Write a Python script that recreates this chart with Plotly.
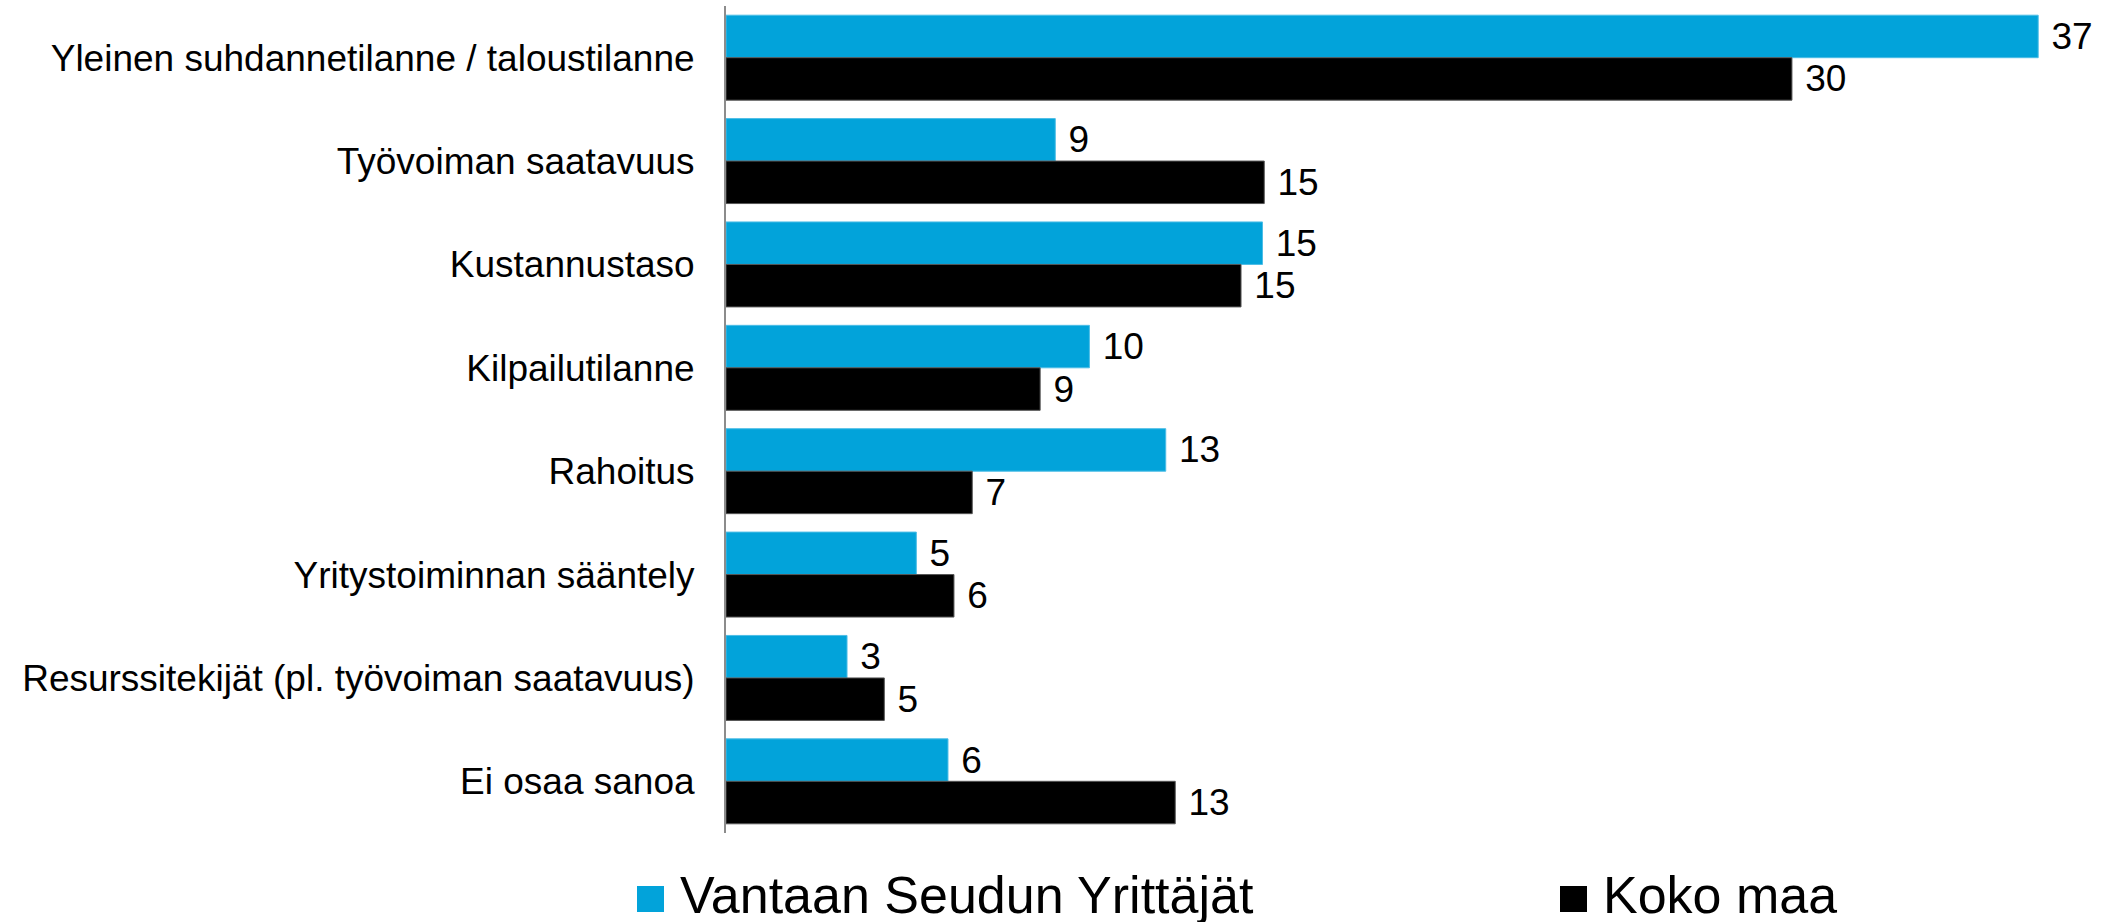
import plotly.graph_objects as go

categories = [
    "Yleinen suhdannetilanne / taloustilanne",
    "Työvoiman saatavuus",
    "Kustannustaso",
    "Kilpailutilanne",
    "Rahoitus",
    "Yritystoiminnan sääntely",
    "Resurssitekijät (pl. työvoiman saatavuus)",
    "Ei osaa sanoa",
]
series_names = ["Vantaan Seudun Yrittäjät", "Koko maa"]
vantaa_values = [37.3, 9.36, 15.25, 10.33, 12.5, 5.41, 3.44, 6.31]
vantaa_labels = ["37", "9", "15", "10", "13", "5", "3", "6"]
koko_values = [30.3, 15.3, 14.64, 8.93, 7.0, 6.48, 4.5, 12.77]
koko_labels = ["30", "15", "15", "9", "7", "6", "5", "13"]
colors = ["#02A3DA", "#000000"]

FONT = "Liberation Sans, Arial, sans-serif"

fig = go.Figure()
for name, vals, labs, col, lc in [
    (series_names[0], vantaa_values, vantaa_labels, colors[0], "#4cbde6"),
    (series_names[1], koko_values, koko_labels, colors[1], "#555555"),
]:
    fig.add_trace(go.Bar(
        y=categories, x=vals, orientation="h", name=name,
        marker=dict(color=col, line=dict(color=lc, width=1)),
        text=labs, texttemplate="\u00a0%{text}", textposition="outside",
        constraintext="none", cliponaxis=False,
        textfont=dict(family=FONT, size=37, color="#000000"),
        showlegend=False, hoverinfo="skip",
    ))

W, H = 2121, 923
L, R, T, B = 726, 23, 6, 90
pw, ph = W - L - R, H - T - B

def px_x(p):
    return (p - L) / pw

def px_y(p):
    return (H - B - p) / ph

fig.update_layout(
    width=W, height=H,
    margin=dict(l=L, r=R, t=T, b=B, autoexpand=False),
    paper_bgcolor="white", plot_bgcolor="white",
    barmode="group", bargap=0.178, bargroupgap=0,
    font=dict(family=FONT, size=37, color="#000000"),
    xaxis=dict(range=[0, 39], visible=False, showgrid=False, zeroline=False),
    yaxis=dict(
        autorange="reversed", showgrid=False, zeroline=False,
        showline=True, linecolor="#8c8c8c", linewidth=2,
        ticks="", ticklabelstandoff=22,
        tickfont=dict(family=FONT, size=37, color="#000000"),
    ),
)

# legend drawn with big square keys
legend_items = [
    (series_names[0], colors[0], 637, 678),
    (series_names[1], colors[1], 1560, 1601),
]
for name, col, sq_x, tx in legend_items:
    fig.add_shape(type="rect", xref="paper", yref="paper",
                  x0=px_x(sq_x), x1=px_x(sq_x + 27),
                  y0=px_y(912), y1=px_y(886),
                  fillcolor=col, line=dict(width=0))
    fig.add_annotation(xref="paper", yref="paper",
                       x=px_x(tx), y=px_y(895), xanchor="left", yanchor="middle",
                       text=name, showarrow=False, height=54, valign="middle",
                       font=dict(family=FONT, size=52, color="#000000"))

fig.write_html("out.html", config={"displayModeBar": False},
               post_script="document.body.style.margin='0';document.body.style.overflow='hidden';")
